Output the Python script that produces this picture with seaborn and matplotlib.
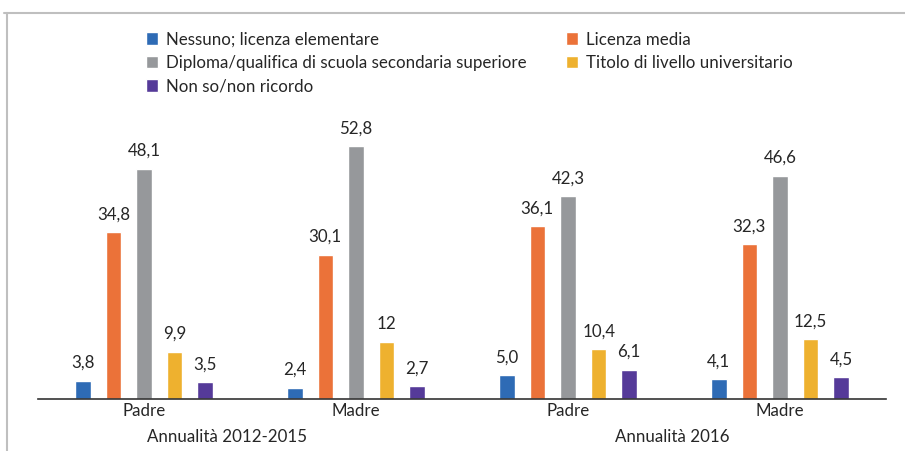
import matplotlib
matplotlib.use("Agg")
import matplotlib.pyplot as plt
from matplotlib.lines import Line2D
import seaborn as sns
import pandas as pd

# categories on the x axis (parent / period)
gruppi = ["Padre 2012-2015", "Madre 2012-2015", "Padre 2016", "Madre 2016"]
tick_labels = ["Padre", "Madre", "Padre", "Madre"]
periodi = ["Annualità 2012-2015", "Annualità 2016"]

titoli = [
    "Nessuno; licenza elementare",
    "Licenza media",
    "Diploma/qualifica di scuola secondaria superiore",
    "Titolo di livello universitario",
    "Non so/non ricordo",
]

nessuno = [3.8, 2.4, 5.0, 4.1]
media = [34.8, 30.1, 36.1, 32.3]
diploma = [48.1, 52.8, 42.3, 46.6]
laurea = [9.9, 12.0, 10.4, 12.5]
non_so = [3.5, 2.7, 6.1, 4.5]

# labels as printed in the source chart
lab_nessuno = ["3,8", "2,4", "5,0", "4,1"]
lab_media = ["34,8", "30,1", "36,1", "32,3"]
lab_diploma = ["48,1", "52,8", "42,3", "46,6"]
lab_laurea = ["9,9", "12", "10,4", "12,5"]
lab_non_so = ["3,5", "2,7", "6,1", "4,5"]

colori = ["#2E6BB5", "#EB7239", "#96989B", "#EEB12F", "#553A99"]

serie = [nessuno, media, diploma, laurea, non_so]
etichette = [lab_nessuno, lab_media, lab_diploma, lab_laurea, lab_non_so]

rows = []
for titolo, valori in zip(titoli, serie):
    for g, v in zip(gruppi, valori):
        rows.append({"gruppo": g, "titolo": titolo, "valore": v})
df = pd.DataFrame(rows)

sns.set_style("white")
plt.rcParams["font.family"] = ["Lato", "DejaVu Sans"]
plt.rcParams["text.color"] = "#262626"
fs = 12.2

fig = plt.figure(figsize=(9.05, 4.51), dpi=100)
ax = fig.add_axes([38 / 905, 1 - 399 / 451, 848 / 905, 287.4 / 451])

sns.barplot(data=df, x="gruppo", y="valore", hue="titolo", order=gruppi,
            hue_order=titoli, palette=colori, saturation=1, width=0.7225,
            gap=0.49, ax=ax, legend=True)

for cont, labs in zip(ax.containers, etichette):
    ax.bar_label(cont, labels=labs, padding=7, fontsize=fs, color="#262626")

ax.set_xlim(-0.5, 3.5)
ax.set_ylim(0, 60)
ax.set_yticks([])
ax.set_xlabel("")
ax.set_ylabel("")
ax.set_xticks(range(4))
ax.set_xticklabels(tick_labels, fontsize=fs)
ax.tick_params(axis="x", length=0, pad=3)
for s in ["top", "right", "left"]:
    ax.spines[s].set_visible(False)
ax.spines["bottom"].set_color("#333333")
ax.spines["bottom"].set_linewidth(1.2)

# second level of category labels
ax.text(0.39, -0.133, periodi[0], transform=ax.get_xaxis_transform(),
        ha="center", va="center", fontsize=fs)
ax.text(2.49, -0.133, periodi[1], transform=ax.get_xaxis_transform(),
        ha="center", va="center", fontsize=fs)

# legend, filled row by row like the original
handles, labels = ax.get_legend_handles_labels()
order = [0, 2, 4, 1, 3]
ax.legend([handles[i] for i in order], [labels[i] for i in order], ncol=2,
          loc="upper left", bbox_to_anchor=(139 / 905, 1 - 25 / 451),
          bbox_transform=fig.transFigure, frameon=False, fontsize=fs,
          handlelength=0.75, handleheight=0.8, handletextpad=0.45,
          columnspacing=2.3, labelspacing=0.42, borderaxespad=0)

# light frame around the chart
fig.add_artist(Line2D([4 / 905, 1], [1 - 13 / 451, 1 - 13 / 451],
                      transform=fig.transFigure, color="#BFBFBF", lw=1.5))
fig.add_artist(Line2D([7 / 905, 7 / 905], [0, 1 - 13 / 451],
                      transform=fig.transFigure, color="#BFBFBF", lw=1.5))

fig.savefig("out.png", dpi=100)
